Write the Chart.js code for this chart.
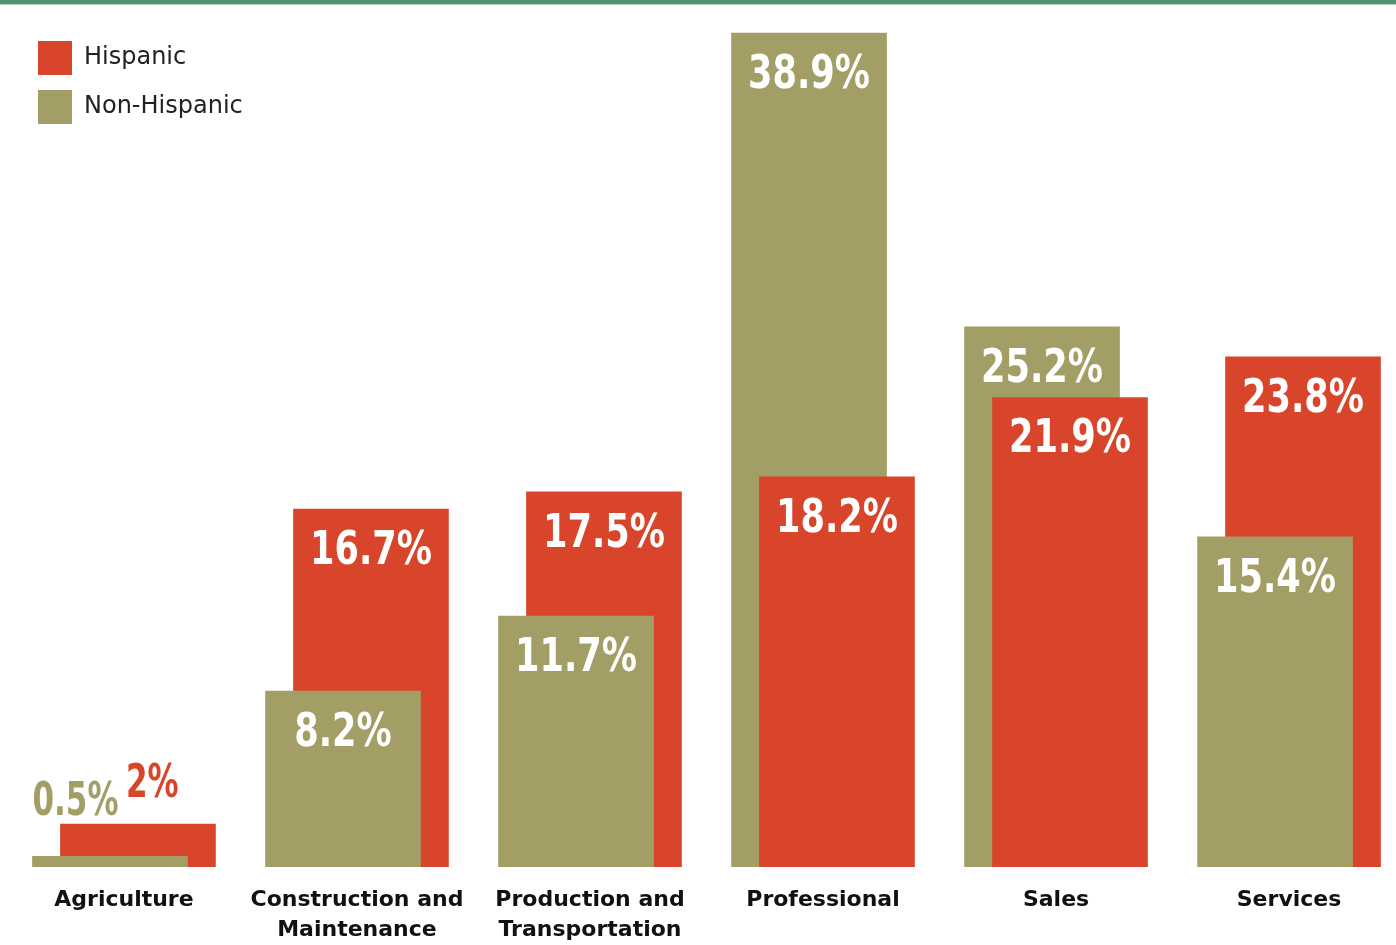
<!DOCTYPE html>
<html>
<head>
<meta charset="utf-8">
<title>Occupations: Hispanic vs Non-Hispanic</title>
<script src="https://cdn.jsdelivr.net/npm/chart.js@4.4.1/dist/chart.umd.min.js"></script>
<style>
  html, body { margin: 0; padding: 0; background: #fff; }
  #wrap { position: relative; width: 1396px; height: 945px; }
  #stripe { position: absolute; left: 0; top: 0; width: 100%; height: 4px; background: #4f9170; border-bottom: 1px solid #b5d3c3; }
  canvas { display: block; }
</style>
</head>
<body>
<div id="wrap">
  <canvas id="chart" width="1396" height="945"></canvas>
  <div id="stripe"></div>
</div>
<script>
var categories = ["Agriculture", "Construction and Maintenance", "Production and Transportation", "Professional", "Sales", "Services"];
var tickLabels = [["Agriculture"], ["Construction and", "Maintenance"], ["Production and", "Transportation"], ["Professional"], ["Sales"], ["Services"]];
var hispanic = [2, 16.7, 17.5, 18.2, 21.9, 23.8];
var nonHispanic = [0.5, 8.2, 11.7, 38.9, 25.2, 15.4];

var RED = "#d8452b";
var OLIVE = "#a29e65";
var SHIFT = 0.06; // olive bar sits a little left, red a little right

// the smaller bar of each pair is drawn in front
function points(values, other, front, shift) {
    var out = [];
    values.forEach(function(v, i) {
        if ((v < other[i]) === front) out.push({x: i + shift, y: v});
    });
    return out;
}

function series(label, data, color) {
    return {
        label: label,
        data: data,
        backgroundColor: color,
        borderWidth: 0,
        barThickness: 155,
        grouped: false
    };
}

// dataset 0 is painted last, so the front bars come first
var datasets = [
    series("Hispanic", points(hispanic, nonHispanic, true, SHIFT), RED),
    series("Non-Hispanic", points(nonHispanic, hispanic, true, -SHIFT), OLIVE),
    series("Hispanic", points(hispanic, nonHispanic, false, SHIFT), RED),
    series("Non-Hispanic", points(nonHispanic, hispanic, false, -SHIFT), OLIVE)
];

var legendSpot = {
    id: "legendSpot",
    afterLayout: function(chart) {
        chart.legend.left = 23;
        chart.legend.top = 26;
    }
};

var barLabels = {
    id: "barLabels",
    afterDatasetsDraw: function(chart) {
        var ctx = chart.ctx;
        chart.data.datasets.forEach(function(ds, di) {
            var meta = chart.getDatasetMeta(di);
            meta.data.forEach(function(bar, i) {
                var text = ds.data[i].y + "%";
                ctx.save();
                ctx.font = 'bold 46px "DejaVu Sans Condensed", "DejaVu Sans", sans-serif';
                ctx.textBaseline = "alphabetic";
                if (bar.base - bar.y > 60) {
                    ctx.fillStyle = "#fff";
                    ctx.textAlign = "center";
                    ctx.translate(bar.x, bar.y + 55);
                    ctx.scale(0.85, 1);
                } else {
                    // short bar: label sits above it in the bar colour
                    ctx.fillStyle = ds.backgroundColor;
                    ctx.textAlign = "left";
                    if (ds.label === "Hispanic") ctx.translate(bar.x - 12, bar.y - 27);
                    else ctx.translate(bar.x - bar.width / 2, bar.y - 41);
                    ctx.scale(0.75, 1);
                }
                ctx.fillText(text, 0, 0);
                ctx.restore();
            });
        });
    }
};

var ctx = document.getElementById("chart").getContext("2d");
new Chart(ctx, {
    type: "bar",
    data: { datasets: datasets },
    options: {
        responsive: false,
        animation: false,
        layout: { padding: 0 },
        scales: {
            x: {
                type: "linear",
                min: -0.532,
                max: 5.459,
                offset: false,
                grid: { display: false, drawTicks: false },
                border: { display: false },
                afterBuildTicks: function(scale) {
                    scale.ticks = categories.map(function(c, i) { return {value: i}; });
                },
                afterFit: function(scale) {
                    scale.height = 78;
                },
                ticks: {
                    autoSkip: false,
                    maxRotation: 0,
                    padding: 18,
                    color: "#111",
                    font: { family: '"DejaVu Sans", sans-serif', size: 22, weight: "bold", lineHeight: "30px" },
                    callback: function(value, index) { return tickLabels[index]; }
                }
            },
            y: {
                display: false,
                min: 0,
                max: 40.44
            }
        },
        plugins: {
            tooltip: { enabled: false },
            legend: {
                position: "chartArea",
                align: "start",
                labels: {
                    boxWidth: 34,
                    boxHeight: 34,
                    padding: 15,
                    color: "#222",
                    font: { family: '"DejaVu Sans", sans-serif', size: 24 },
                    filter: function(item) { return item.datasetIndex >= 2; }
                }
            }
        }
    },
    plugins: [legendSpot, barLabels]
});
</script>
</body>
</html>
